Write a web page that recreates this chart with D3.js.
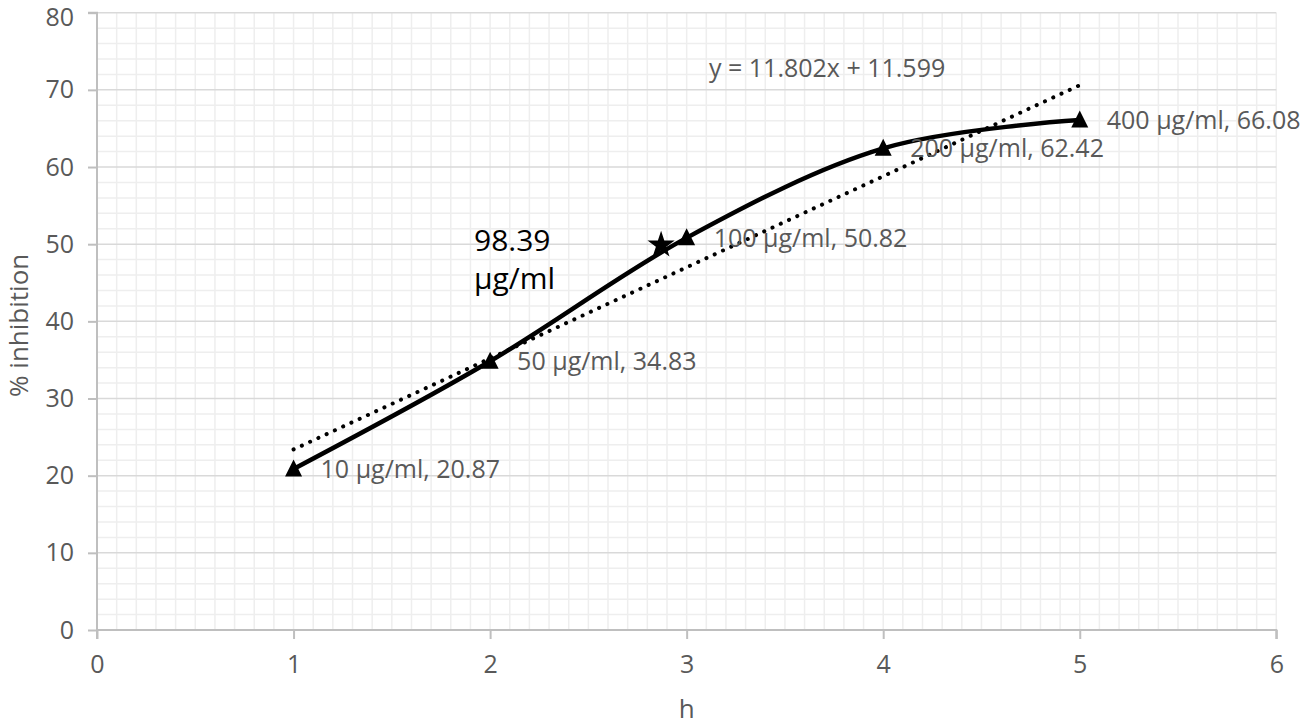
<!DOCTYPE html>
<html>
<head>
<meta charset="utf-8">
<script src="https://cdn.jsdelivr.net/npm/d3@7"></script>
<style>
  html, body { margin: 0; padding: 0; background: #fff; }
  svg { display: block; font-family: "Open Sans", "Noto Sans", sans-serif; }
</style>
</head>
<body>
<svg id="chart" width="1306" height="726"></svg>
<script>
// ---- data ----
const hours = [1, 2, 3, 4, 5];
const inhibition = [20.87, 34.83, 50.82, 62.42, 66.08];
const concentrations = ["10 µg/ml", "50 µg/ml", "100 µg/ml", "200 µg/ml", "400 µg/ml"];
const ic50Point = [2.87, 49.9];
const ic50Label = ["98.39", "µg/ml"];
const trendSlope = 11.802;
const trendIntercept = 11.599;
const trendLabel = "y = 11.802x + 11.599";
const xTicks = [0, 1, 2, 3, 4, 5, 6];
const yTicks = [0, 10, 20, 30, 40, 50, 60, 70, 80];
const xTitle = "h";
const yTitle = "% inhibition";

// ---- layout ----
const svg = d3.select("#chart");
const pLeft = 97, pRight = 1276.3, pTop = 12.7, pBottom = 630;
const x = d3.scaleLinear().domain([0, 6]).range([pLeft, pRight]);
const y = d3.scaleLinear().domain([0, 80]).range([pBottom, pTop]);
const textGray = "#595959";

// minor grid
const g = svg.append("g");
g.selectAll("line.vminor").data(d3.range(1, 61).map(i => i / 10))
  .join("line").attr("x1", d => x(d)).attr("x2", d => x(d))
  .attr("y1", y(80)).attr("y2", y(0))
  .attr("stroke", "#eeeeee").attr("stroke-width", 1.5);
g.selectAll("line.hminor").data(d3.range(2, 80, 2).filter(v => v % 10 !== 0))
  .join("line").attr("x1", x(0)).attr("x2", x(6))
  .attr("y1", d => y(d)).attr("y2", d => y(d))
  .attr("stroke", "#eeeeee").attr("stroke-width", 1.5);
// major horizontal grid
g.selectAll("line.hmajor").data(yTicks.filter(v => v > 0))
  .join("line").attr("x1", x(0)).attr("x2", x(6))
  .attr("y1", d => y(d)).attr("y2", d => y(d))
  .attr("stroke", "#d9d9d9").attr("stroke-width", 1.5);

// axes
const xAxis = svg.append("g").attr("transform", `translate(0,${pBottom})`)
  .call(d3.axisBottom(x).tickValues(xTicks).tickSize(9).tickPadding(16).tickFormat(d3.format("d")));
const yAxis = svg.append("g").attr("transform", `translate(${pLeft},0)`)
  .call(d3.axisLeft(y).tickValues(yTicks).tickSize(9).tickPadding(14).tickFormat(d3.format("d")));
[xAxis, yAxis].forEach(a => {
  a.select(".domain").attr("stroke", "#bfbfbf").attr("stroke-width", 2);
  a.selectAll(".tick line").attr("stroke", "#bfbfbf").attr("stroke-width", 2);
  a.selectAll(".tick text").attr("fill", textGray).style("font-size", "25px")
    .style("font-family", '"Open Sans", sans-serif');
});
xAxis.select(".domain").attr("d", `M${x(0)},9V0H${x(6)}V9`);
yAxis.select(".domain").attr("d", `M-9,${y(80)}H0V${y(0)}`);
// keep the top tick label inside the picture
yAxis.selectAll(".tick text").filter(d => d === 80).attr("dy", "0.5em");

// axis titles
svg.append("text").attr("x", (pLeft + pRight) / 2).attr("y", 718)
  .attr("text-anchor", "middle").attr("fill", textGray).style("font-size", "26px").text(xTitle);
svg.append("text").attr("transform", `translate(28,${(pTop + pBottom) / 2 + 4}) rotate(-90)`)
  .attr("text-anchor", "middle").attr("fill", textGray).style("font-size", "26px").text(yTitle);

// trendline (dotted)
const tx = [hours[0], hours[hours.length - 1]];
svg.append("line")
  .attr("x1", x(tx[0])).attr("y1", y(trendSlope * tx[0] + trendIntercept))
  .attr("x2", x(tx[1])).attr("y2", y(trendSlope * tx[1] + trendIntercept))
  .attr("stroke", "#000").attr("stroke-width", 4).attr("stroke-linecap", "round")
  .attr("stroke-dasharray", "0.1 9");

// smooth data line
const pts = hours.map((h, i) => [h, inhibition[i]]);
svg.append("path").datum(pts)
  .attr("d", d3.line().x(d => x(d[0])).y(d => y(d[1])).curve(d3.curveCardinal.tension(0)))
  .attr("fill", "none").attr("stroke", "#000").attr("stroke-width", 4.5).attr("stroke-linejoin", "round");

// triangle markers
svg.selectAll("path.tri").data(pts).join("path")
  .attr("transform", d => `translate(${x(d[0])},${y(d[1])})`)
  .attr("d", "M0,-9.5L8.5,7.5H-8.5Z").attr("fill", "#000");

// star marker
svg.append("path")
  .attr("transform", `translate(${x(ic50Point[0])},${y(ic50Point[1])})`)
  .attr("d", d3.symbol().type(d3.symbolStar).size(230)()).attr("fill", "#000");

// data labels
svg.selectAll("text.dl").data(pts).join("text")
  .attr("x", d => x(d[0]) + 27).attr("y", d => y(d[1]) + 9)
  .attr("fill", textGray).style("font-size", "25px")
  .text((d, i) => `${concentrations[i]}, ${inhibition[i].toFixed(2)}`);

// trend equation
svg.append("text").attr("x", 709).attr("y", 77)
  .attr("fill", textGray).style("font-size", "25px").text(trendLabel);

// IC50 label
svg.append("text").attr("x", 474).attr("y", 251).attr("fill", "#000").style("font-size", "30px").text(ic50Label[0]);
svg.append("text").attr("x", 474).attr("y", 289).attr("fill", "#000").style("font-size", "30px").text(ic50Label[1]);
</script>
</body>
</html>
